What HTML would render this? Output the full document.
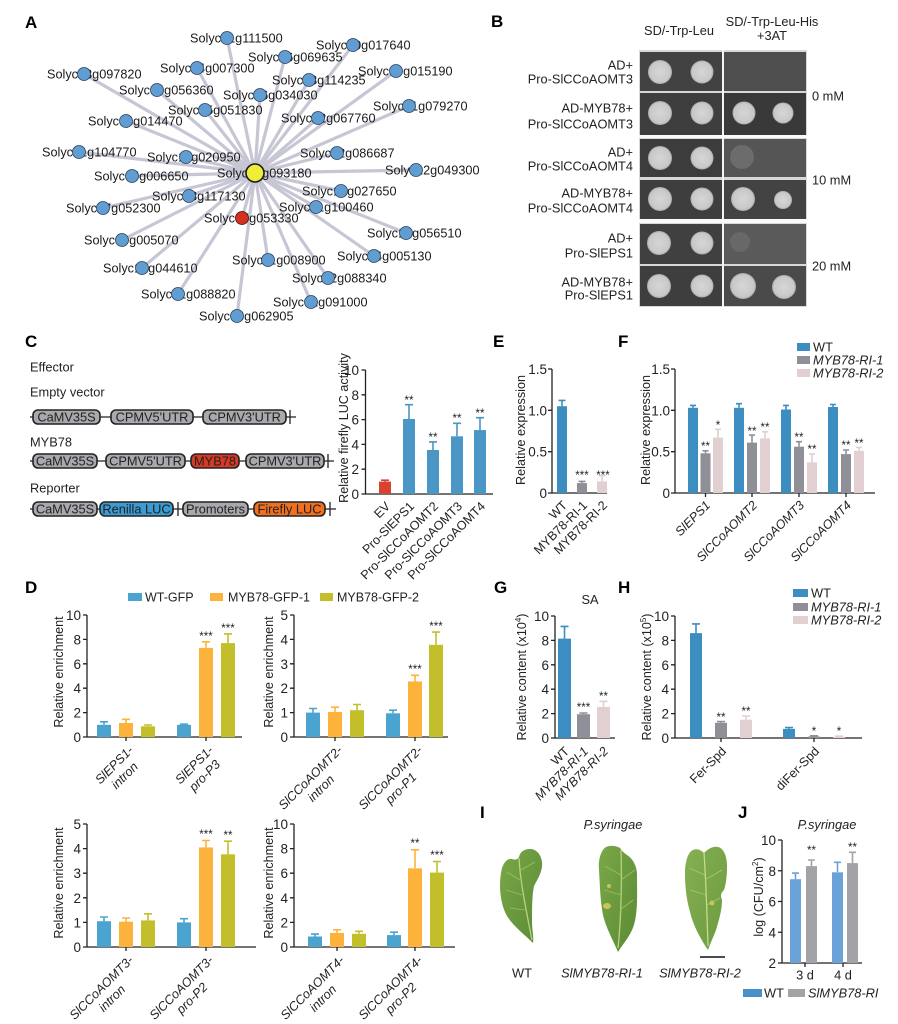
<!DOCTYPE html>
<html><head><meta charset="utf-8">
<style>
html,body{margin:0;padding:0;background:#fff;}
svg{display:block;}
text{font-family:"Liberation Sans",Arial,sans-serif;fill:#222;}
.t{font-size:12.8px;}
.tk{font-size:13.5px;text-anchor:end;}
.L{font-size:17px;font-weight:bold;fill:#000;}
.n{font-size:12.7px;fill:#1a1a1a;}
.ax{stroke:#222;stroke-width:1.3;fill:none;}
.st{font-size:11.5px;text-anchor:middle;}
.yl{font-size:12.6px;text-anchor:middle;}
.xl{font-size:12.6px;text-anchor:end;}
.dl{font-size:12.6px;text-anchor:middle;font-style:italic;}
.it{font-style:italic;}
.e{stroke-width:1.6;fill:none;}
</style></head><body>
<svg width="898" height="1024" viewBox="0 0 898 1024" xmlns="http://www.w3.org/2000/svg">
<defs>
<radialGradient id="col" cx="50%" cy="50%" r="50%"><stop offset="0" stop-color="#d6d6d6"/><stop offset="0.85" stop-color="#c8c8c8"/><stop offset="1" stop-color="#a8a8a8"/></radialGradient>
<linearGradient id="leafA" x1="0" y1="0" x2="1" y2="1"><stop offset="0" stop-color="#7aa848"/><stop offset="1" stop-color="#5a8a34"/></linearGradient>
<linearGradient id="leafB" x1="0" y1="0" x2="1" y2="1"><stop offset="0" stop-color="#86b054"/><stop offset="1" stop-color="#6a9a3c"/></linearGradient>
</defs>

<!-- ================= A ================= -->
<text class="L" x="25" y="28">A</text>
<g stroke="#c6c6d4" stroke-width="3.2">
<line x1="255" y1="173" x2="227" y2="38"/><line x1="255" y1="173" x2="353" y2="45"/><line x1="255" y1="173" x2="285" y2="57"/>
<line x1="255" y1="173" x2="197" y2="68"/><line x1="255" y1="173" x2="84" y2="74"/><line x1="255" y1="173" x2="396" y2="71"/>
<line x1="255" y1="173" x2="309" y2="80"/><line x1="255" y1="173" x2="157" y2="90"/><line x1="255" y1="173" x2="260" y2="95"/>
<line x1="255" y1="173" x2="205" y2="110"/><line x1="255" y1="173" x2="409" y2="106"/><line x1="255" y1="173" x2="126" y2="121"/>
<line x1="255" y1="173" x2="318" y2="118"/><line x1="255" y1="173" x2="79" y2="152"/><line x1="255" y1="173" x2="186" y2="157"/>
<line x1="255" y1="173" x2="337" y2="153"/><line x1="255" y1="173" x2="416" y2="170"/><line x1="255" y1="173" x2="132" y2="176"/>
<line x1="255" y1="173" x2="341" y2="191"/><line x1="255" y1="173" x2="189" y2="196"/><line x1="255" y1="173" x2="103" y2="208"/>
<line x1="255" y1="173" x2="316" y2="207"/><line x1="255" y1="173" x2="242" y2="218"/><line x1="255" y1="173" x2="406" y2="233"/>
<line x1="255" y1="173" x2="122" y2="240"/><line x1="255" y1="173" x2="374" y2="256"/><line x1="255" y1="173" x2="268" y2="260"/>
<line x1="255" y1="173" x2="142" y2="268"/><line x1="255" y1="173" x2="328" y2="278"/><line x1="255" y1="173" x2="178" y2="294"/>
<line x1="255" y1="173" x2="311" y2="302"/><line x1="255" y1="173" x2="237" y2="316"/>
</g>
<g class="n">
<text class="n" x="190" y="42.5">Solyc01g111500</text>
<text class="n" x="316" y="49.5">Solyc10g017640</text>
<text class="n" x="248" y="61.5">Solyc06g069635</text>
<text class="n" x="160" y="72.5">Solyc04g007300</text>
<text class="n" x="47" y="78.5">Solyc03g097820</text>
<text class="n" x="358" y="75.5">Solyc09g015190</text>
<text class="n" x="272" y="84.5">Solyc03g114235</text>
<text class="n" x="119" y="94.5">Solyc04g056360</text>
<text class="n" x="223" y="99.5">Solyc06g034030</text>
<text class="n" x="168" y="114.5">Solyc05g051830</text>
<text class="n" x="373" y="110.5">Solyc01g079270</text>
<text class="n" x="88" y="125.5">Solyc04g014470</text>
<text class="n" x="281" y="122.5">Solyc02g067760</text>
<text class="n" x="42" y="156.5">Solyc01g104770</text>
<text class="n" x="147" y="161.5">Solyc11g020950</text>
<text class="n" x="300" y="157.5">Solyc02g086687</text>
<text class="n" x="385" y="174.5">Solyc12g049300</text>
<text class="n" x="94" y="180.5">Solyc05g006650</text>
<text class="n" x="217" y="177.5">Solyc02g093180</text>
<text class="n" x="302" y="195.5">Solyc12g027650</text>
<text class="n" x="152" y="200.5">Solyc03g117130</text>
<text class="n" x="66" y="212.5">Solyc07g052300</text>
<text class="n" x="279" y="211.5">Solyc01g100460</text>
<text class="n" x="204" y="222.5">Solyc05g053330</text>
<text class="n" x="367" y="237.5">Solyc12g056510</text>
<text class="n" x="84" y="244.5">Solyc09g005070</text>
<text class="n" x="337" y="260.5">Solyc04g005130</text>
<text class="n" x="232" y="264.5">Solyc11g008900</text>
<text class="n" x="103" y="272.5">Solyc12g044610</text>
<text class="n" x="292" y="282.5">Solyc02g088340</text>
<text class="n" x="141" y="298.5">Solyc01g088820</text>
<text class="n" x="273" y="306.5">Solyc01g091000</text>
<text class="n" x="199" y="320.5">Solyc06g062905</text>
</g>
<g fill="#609dd2" stroke="#2b3d55" stroke-width="0.8">
<circle cx="227" cy="38" r="6.5"/><circle cx="353" cy="45" r="6.5"/><circle cx="285" cy="57" r="6.5"/>
<circle cx="197" cy="68" r="6.5"/><circle cx="84" cy="74" r="6.5"/><circle cx="396" cy="71" r="6.5"/>
<circle cx="309" cy="80" r="6.5"/><circle cx="157" cy="90" r="6.5"/><circle cx="260" cy="95" r="6.5"/>
<circle cx="205" cy="110" r="6.5"/><circle cx="409" cy="106" r="6.5"/><circle cx="126" cy="121" r="6.5"/>
<circle cx="318" cy="118" r="6.5"/><circle cx="79" cy="152" r="6.5"/><circle cx="186" cy="157" r="6.5"/>
<circle cx="337" cy="153" r="6.5"/><circle cx="416" cy="170" r="6.5"/><circle cx="132" cy="176" r="6.5"/>
<circle cx="341" cy="191" r="6.5"/><circle cx="189" cy="196" r="6.5"/><circle cx="103" cy="208" r="6.5"/>
<circle cx="316" cy="207" r="6.5"/><circle cx="406" cy="233" r="6.5"/>
<circle cx="122" cy="240" r="6.5"/><circle cx="374" cy="256" r="6.5"/><circle cx="268" cy="260" r="6.5"/>
<circle cx="142" cy="268" r="6.5"/><circle cx="328" cy="278" r="6.5"/><circle cx="178" cy="294" r="6.5"/>
<circle cx="311" cy="302" r="6.5"/><circle cx="237" cy="316" r="6.5"/>
</g>
<circle cx="242" cy="218" r="6.5" fill="#d3311d" stroke="#3a1010" stroke-width="0.8"/>
<circle cx="255" cy="173" r="9" fill="#eeee38" stroke="#1a1a1a" stroke-width="1.6"/>

<!-- ================= B ================= -->
<text class="L" x="491" y="27">B</text>
<text class="t" x="679" y="35" text-anchor="middle">SD/-Trp-Leu</text>
<text class="t" x="772" y="26" text-anchor="middle">SD/-Trp-Leu-His</text>
<text class="t" x="772" y="40" text-anchor="middle">+3AT</text>
<g class="t" text-anchor="end">
<text x="633" y="69.5">AD+</text><text x="633" y="83.5">Pro-SlCCoAOMT3</text>
<text x="633" y="112.5">AD-MYB78+</text><text x="633" y="128.5">Pro-SlCCoAOMT3</text>
<text x="633" y="156.5">AD+</text><text x="633" y="170.5">Pro-SlCCoAOMT4</text>
<text x="633" y="197.5">AD-MYB78+</text><text x="633" y="212.5">Pro-SlCCoAOMT4</text>
<text x="633" y="242.5">AD+</text><text x="633" y="257.5">Pro-SlEPS1</text>
<text x="633" y="286.5">AD-MYB78+</text><text x="633" y="299.5">Pro-SlEPS1</text>
</g>
<text class="t" x="812" y="100.5">0 mM</text>
<text class="t" x="812" y="184.5">10 mM</text>
<text class="t" x="812" y="270.5">20 mM</text>
<rect x="639" y="50" width="168" height="257" fill="#d8d8d8"/>
<rect x="722" y="50" width="2" height="257" fill="#f4f4f4"/>
<rect x="639" y="135" width="168" height="3" fill="#fafafa"/>
<rect x="639" y="219" width="168" height="4" fill="#fafafa"/>
<g>
<rect x="640" y="52" width="82" height="39" fill="#424242"/>
<rect x="640" y="93" width="82" height="42" fill="#3e3e3e"/>
<rect x="640" y="139" width="82" height="38" fill="#3c3c3c"/>
<rect x="640" y="180" width="82" height="39" fill="#3e3e3e"/>
<rect x="640" y="224" width="82" height="40" fill="#404040"/>
<rect x="640" y="266" width="82" height="40" fill="#3e3e3e"/>
<rect x="724" y="52" width="82" height="39" fill="#4e4e4e"/>
<rect x="724" y="93" width="82" height="42" fill="#393939"/>
<rect x="724" y="139" width="82" height="38" fill="#555555"/>
<rect x="724" y="180" width="82" height="39" fill="#434343"/>
<rect x="724" y="224" width="82" height="40" fill="#5a5a5a"/>
<rect x="724" y="266" width="82" height="40" fill="#4a4a4a"/>
</g>
<g fill="url(#col)">
<circle cx="660" cy="72" r="12"/><circle cx="702" cy="72" r="11.5"/>
<circle cx="660" cy="113" r="12"/><circle cx="702" cy="113" r="11.5"/>
<circle cx="660" cy="158" r="12"/><circle cx="702" cy="158" r="11.5"/>
<circle cx="660" cy="199" r="12"/><circle cx="702" cy="199" r="11.5"/>
<circle cx="659" cy="243" r="12"/><circle cx="702" cy="243" r="11.5"/>
<circle cx="659" cy="286" r="12"/><circle cx="702" cy="286" r="11.5"/>
<circle cx="744" cy="113" r="11.5"/><circle cx="783" cy="113" r="10.5"/>
<circle cx="743" cy="199" r="12"/><circle cx="783" cy="200" r="9"/>
<circle cx="743" cy="286" r="13"/><circle cx="784" cy="287" r="12"/>
</g>
<circle cx="742" cy="157" r="12" fill="#6c6c6c"/>
<circle cx="740" cy="242" r="10" fill="#686868"/>

<!-- ================= C ================= -->
<text class="L" x="25" y="347">C</text>
<g class="t" fill="#333">
<text x="30" y="371.5">Effector</text>
<text x="30" y="396.5">Empty vector</text>
<text x="30" y="446.5">MYB78</text>
<text x="30" y="492.5">Reporter</text>
</g>
<g stroke="#222" stroke-width="1.3">
<line x1="30" y1="417" x2="296" y2="417"/><line x1="290" y1="410" x2="290" y2="424"/>
<line x1="30" y1="461" x2="334" y2="461"/><line x1="328" y1="454" x2="328" y2="468"/>
<line x1="30" y1="509" x2="336" y2="509"/><line x1="178" y1="502" x2="178" y2="516"/><line x1="330" y1="502" x2="330" y2="516"/>
</g>
<g stroke="#222" stroke-width="1.6">
<rect x="33" y="410" width="67" height="14" rx="5" fill="#a8a8ad"/>
<rect x="111" y="410" width="82" height="14" rx="5" fill="#a8a8ad"/>
<rect x="203" y="410" width="83" height="14" rx="5" fill="#a8a8ad"/>
<rect x="33" y="454" width="64" height="14" rx="5" fill="#a8a8ad"/>
<rect x="106" y="454" width="79" height="14" rx="5" fill="#a8a8ad"/>
<rect x="191" y="454" width="48" height="14" rx="5" fill="#d53a25"/>
<rect x="246" y="454" width="78" height="14" rx="5" fill="#a8a8ad"/>
<rect x="33" y="502" width="64" height="14" rx="5" fill="#a8a8ad"/>
<rect x="100" y="502" width="73" height="14" rx="5" fill="#3b9bd2"/>
<rect x="183" y="502" width="65" height="14" rx="5" fill="#a8a8ad"/>
<rect x="254" y="502" width="71" height="14" rx="5" fill="#f07020"/>
</g>
<g class="t" text-anchor="middle">
<text x="66.5" y="421.5">CaMV35S</text><text x="152" y="421.5">CPMV5'UTR</text><text x="244.5" y="421.5">CPMV3'UTR</text>
<text x="65" y="465.5">CaMV35S</text><text x="145.5" y="465.5">CPMV5'UTR</text><text x="215" y="465.5">MYB78</text><text x="285" y="465.5">CPMV3'UTR</text>
<text x="65" y="513.5">CaMV35S</text><text x="136.5" y="513.5">Renilla LUC</text><text x="215.5" y="513.5">Promoters</text><text x="289.5" y="513.5">Firefly LUC</text>
</g>
<!-- C chart -->
<path class="ax" d="M365.5 370 V494 H493"/>
<g class="ax"><path d="M361.5 494H365.5M361.5 469.2H365.5M361.5 444.4H365.5M361.5 419.6H365.5M361.5 394.8H365.5M361.5 370H365.5"/></g>
<g class="tk"><text x="359" y="499">0</text><text x="359" y="474.2">2</text><text x="359" y="449.4">4</text><text x="359" y="424.6">6</text><text x="359" y="399.8">8</text><text x="359" y="375">10</text></g>
<rect x="379" y="481.6" width="12" height="12.4" fill="#d64330"/>
<path class="e" stroke="#d64330" d="M385 481.6V480.2M381 480.2H389"/>
<g fill="#4a96c4"><rect x="403" y="419" width="12" height="75"/><rect x="427" y="450" width="12" height="44"/><rect x="451" y="436.3" width="12" height="57.7"/><rect x="474" y="430.1" width="12" height="63.9"/></g>
<g class="e" stroke="#4a96c4"><path d="M409 419V404.7M405 404.7H413M433 450V441.9M429 441.9H437M457 436.3V423.3M453 423.3H461M480 430.1V417.7M476 417.7H484"/></g>
<g class="st"><text x="409" y="404">**</text><text x="433" y="441">**</text><text x="457" y="422">**</text><text x="480" y="417">**</text></g>
<text class="yl" transform="translate(348,428) rotate(-90)">Relative firefly LUC activity</text>
<g class="xl">
<text transform="translate(391,507) rotate(-45)">EV</text>
<text transform="translate(415,507) rotate(-45)">Pro-SlEPS1</text>
<text transform="translate(439,507) rotate(-45)">Pro-SlCCoAOMT2</text>
<text transform="translate(463,507) rotate(-45)">Pro-SlCCoAOMT3</text>
<text transform="translate(486,507) rotate(-45)">Pro-SlCCoAOMT4</text>
</g>

<!-- ================= E ================= -->
<text class="L" x="493" y="347">E</text>
<path class="ax" d="M552 369 V493 H607"/>
<path class="ax" d="M548 493H552M548 451.7H552M548 410.3H552M548 369H552"/>
<g class="tk"><text x="547" y="498">0</text><text x="547" y="456.7">0.5</text><text x="547" y="415.3">1.0</text><text x="547" y="374">1.5</text></g>
<rect x="557" y="406.2" width="10" height="86.8" fill="#3c8ec0"/>
<rect x="577" y="483.1" width="10" height="9.9" fill="#8f8f97"/>
<rect x="597" y="481.4" width="10" height="11.6" fill="#e2cfd1"/>
<path class="e" stroke="#3c8ec0" d="M562 406.2V400.4M558.5 400.4H565.5"/>
<path class="e" stroke="#8f8f97" d="M582 483.1V481.4M578.5 481.4H585.5"/>
<path class="e" stroke="#e2cfd1" d="M602 481.4V475.6M598.5 475.6H605.5"/>
<g class="st"><text x="582" y="479">***</text><text x="603" y="479">***</text></g>
<text class="yl" transform="translate(525,430) rotate(-90)">Relative expression</text>
<g class="xl">
<text transform="translate(568,506) rotate(-45)">WT</text>
<text transform="translate(588,506) rotate(-45)">MYB78-RI-1</text>
<text transform="translate(608,506) rotate(-45)">MYB78-RI-2</text>
</g>

<!-- ================= F ================= -->
<text class="L" x="618" y="347">F</text>
<path class="ax" d="M675 369 V493 H875"/>
<path class="ax" d="M671 493H675M671 451.7H675M671 410.3H675M671 369H675M705.5 493V497M752 493V497M799 493V497M846 493V497"/>
<g class="tk"><text x="670" y="498">0</text><text x="670" y="456.7">0.5</text><text x="670" y="415.3">1.0</text><text x="670" y="374">1.5</text></g>
<g fill="#3c8ec0"><rect x="688" y="407.8" width="10" height="85.2"/><rect x="734" y="407.8" width="10" height="85.2"/><rect x="781" y="409.5" width="10" height="83.5"/><rect x="828" y="407" width="10" height="86"/></g>
<g fill="#8f8f97"><rect x="700.5" y="453.3" width="10" height="39.7"/><rect x="747" y="442.6" width="10" height="50.4"/><rect x="794" y="446.7" width="10" height="46.3"/><rect x="841" y="454.1" width="10" height="38.9"/></g>
<g fill="#e2cfd1"><rect x="713" y="437.6" width="10" height="55.4"/><rect x="760" y="438.4" width="10" height="54.6"/><rect x="807" y="462.4" width="10" height="30.6"/><rect x="854" y="450.8" width="10" height="42.2"/></g>
<path class="e" stroke="#3c8ec0" d="M693 407.8V405.4M690 405.4H696M739 407.8V403.7M736 403.7H742M786 409.5V405.4M783 405.4H789M833 407V404.5M830 404.5H836"/>
<path class="e" stroke="#8f8f97" d="M705.5 453.3V450.8M702.5 450.8H708.5M752 442.6V435.1M749 435.1H755M799 446.7V441.7M796 441.7H802M846 454.1V450M843 450H849"/>
<path class="e" stroke="#e2cfd1" d="M718 437.6V429.3M715 429.3H721M765 438.4V431.8M762 431.8H768M812 462.4V454.1M809 454.1H815M859 450.8V447.5M856 447.5H862"/>
<g class="st"><text x="705.5" y="450">**</text><text x="718" y="429">*</text><text x="752" y="435">**</text><text x="765" y="431">**</text><text x="799" y="441">**</text><text x="812" y="453">**</text><text x="846" y="449">**</text><text x="859" y="447">**</text></g>
<text class="yl" transform="translate(650,430) rotate(-90)">Relative expression</text>
<g class="xl it">
<text transform="translate(711,506) rotate(-45)">SlEPS1</text>
<text transform="translate(758,506) rotate(-45)">SlCCoAOMT2</text>
<text transform="translate(805,506) rotate(-45)">SlCCoAOMT3</text>
<text transform="translate(852,506) rotate(-45)">SlCCoAOMT4</text>
</g>
<rect x="797" y="343" width="13" height="8" fill="#3c8ec0"/>
<rect x="797" y="356" width="13" height="8" fill="#8f8f97"/>
<rect x="797" y="369" width="13" height="8" fill="#e2cfd1"/>
<text class="t" x="813" y="351.5">WT</text>
<text class="t it" x="813" y="364.5">MYB78-RI-1</text>
<text class="t it" x="813" y="377.5">MYB78-RI-2</text>

<!-- ================= D ================= -->
<text class="L" x="25" y="593">D</text>
<rect x="128" y="593" width="14" height="8" fill="#4ba3cf"/><text x="145" y="601.5" style="font-size:12.5px">WT-GFP</text>
<rect x="210" y="593" width="13" height="8" fill="#fdb33b"/><text x="228" y="601.5" style="font-size:12.5px">MYB78-GFP-1</text>
<rect x="320" y="593" width="13" height="8" fill="#c3bf2b"/><text x="337" y="601.5" style="font-size:12.5px">MYB78-GFP-2</text>

<!-- D1 -->
<path class="ax" d="M87 615 V737 H242M83 737H87M83 712.6H87M83 688.2H87M83 663.8H87M83 639.4H87M83 615H87M126 737V741M206 737V741"/>
<g class="tk"><text x="81" y="742">0</text><text x="81" y="717.6">2</text><text x="81" y="693.2">4</text><text x="81" y="668.8">6</text><text x="81" y="644.4">8</text><text x="81" y="620">10</text></g>
<g fill="#4ba3cf"><rect x="97" y="724.8" width="14" height="12.2"/><rect x="177" y="724.8" width="14" height="12.2"/></g>
<g fill="#fdb33b"><rect x="119" y="723" width="14" height="14"/><rect x="199" y="647.9" width="14" height="89.1"/></g>
<g fill="#c3bf2b"><rect x="141" y="726.3" width="14" height="10.7"/><rect x="221" y="643.1" width="14" height="93.9"/></g>
<path class="e" stroke="#4ba3cf" d="M104 724.8V721.8M100 721.8H108M184 724.8V724.2M180 724.2H188"/>
<path class="e" stroke="#fdb33b" d="M126 723V719.3M122 719.3H130M206 647.9V641.8M202 641.8H210"/>
<path class="e" stroke="#c3bf2b" d="M148 726.3V725M144 725H152M228 643.1V633.9M224 633.9H232"/>
<g class="st"><text x="206" y="640">***</text><text x="228" y="632">***</text></g>
<text class="yl" transform="translate(63,672) rotate(-90)">Relative enrichment</text>
<g class="dl" transform="translate(134,751) rotate(-45)"><text x="-24" y="0">SlEPS1-</text><text x="-24" y="15">intron</text></g>
<g class="dl" transform="translate(214,751) rotate(-45)"><text x="-24" y="0">SlEPS1-</text><text x="-24" y="15">pro-P3</text></g>

<!-- D2 -->
<path class="ax" d="M294 615 V737 H448M290 737H294M290 712.6H294M290 688.2H294M290 663.8H294M290 639.4H294M290 615H294M335 737V741M415 737V741"/>
<g class="tk"><text x="288" y="742">0</text><text x="288" y="717.6">1</text><text x="288" y="693.2">2</text><text x="288" y="668.8">3</text><text x="288" y="644.4">4</text><text x="288" y="620">5</text></g>
<g fill="#4ba3cf"><rect x="306" y="712.6" width="14" height="24.4"/><rect x="386" y="713.3" width="14" height="23.7"/></g>
<g fill="#fdb33b"><rect x="328" y="711.9" width="14" height="25.1"/><rect x="408" y="681.4" width="14" height="55.6"/></g>
<g fill="#c3bf2b"><rect x="350" y="710.2" width="14" height="26.8"/><rect x="429" y="644.8" width="14" height="92.2"/></g>
<path class="e" stroke="#4ba3cf" d="M313 712.6V708.5M309 708.5H317M393 713.3V710.2M389 710.2H397"/>
<path class="e" stroke="#fdb33b" d="M335 711.9V707.2M331 707.2H339M415 681.4V675.3M411 675.3H419"/>
<path class="e" stroke="#c3bf2b" d="M357 710.2V704.5M353 704.5H361M436 644.8V632.1M432 632.1H440"/>
<g class="st"><text x="415" y="673">***</text><text x="436" y="630">***</text></g>
<text class="yl" transform="translate(273,672) rotate(-90)">Relative enrichment</text>
<g class="dl" transform="translate(343,751) rotate(-45)"><text x="-42" y="0">SlCCoAOMT2-</text><text x="-42" y="15">intron</text></g>
<g class="dl" transform="translate(423,751) rotate(-45)"><text x="-42" y="0">SlCCoAOMT2-</text><text x="-42" y="15">pro-P1</text></g>

<!-- D3 -->
<path class="ax" d="M87 824 V947 H256M83 947H87M83 922.4H87M83 897.8H87M83 873.2H87M83 848.6H87M83 824H87M126 947V951M206 947V951"/>
<g class="tk"><text x="81" y="952">0</text><text x="81" y="927.4">1</text><text x="81" y="902.8">2</text><text x="81" y="878.2">3</text><text x="81" y="853.6">4</text><text x="81" y="829">5</text></g>
<g fill="#4ba3cf"><rect x="97" y="921.2" width="14" height="25.8"/><rect x="177" y="922.4" width="14" height="24.6"/></g>
<g fill="#fdb33b"><rect x="119" y="921.7" width="14" height="25.3"/><rect x="199" y="847.4" width="14" height="99.6"/></g>
<g fill="#c3bf2b"><rect x="141" y="920.4" width="14" height="26.6"/><rect x="221" y="854.3" width="14" height="92.7"/></g>
<path class="e" stroke="#4ba3cf" d="M104 921.2V917M100 917H108M184 922.4V918.7M180 918.7H188"/>
<path class="e" stroke="#fdb33b" d="M126 921.7V918M122 918H130M206 847.4V840.5M202 840.5H210"/>
<path class="e" stroke="#c3bf2b" d="M148 920.4V913.8M144 913.8H152M228 854.3V841.2M224 841.2H232"/>
<g class="st"><text x="206" y="838">***</text><text x="228" y="839">**</text></g>
<text class="yl" transform="translate(63,883) rotate(-90)">Relative enrichment</text>
<g class="dl" transform="translate(134,961) rotate(-45)"><text x="-42" y="0">SlCCoAOMT3-</text><text x="-42" y="15">intron</text></g>
<g class="dl" transform="translate(214,961) rotate(-45)"><text x="-42" y="0">SlCCoAOMT3-</text><text x="-42" y="15">pro-P2</text></g>

<!-- D4 -->
<path class="ax" d="M294 824 V947 H455M290 947H294M290 922.4H294M290 897.8H294M290 873.2H294M290 848.6H294M290 824H294M337 947V951M415 947V951"/>
<g class="tk"><text x="288" y="952">0</text><text x="288" y="927.4">2</text><text x="288" y="902.8">4</text><text x="288" y="878.2">6</text><text x="288" y="853.6">8</text><text x="288" y="829">10</text></g>
<g fill="#4ba3cf"><rect x="308" y="936.5" width="14" height="10.5"/><rect x="387" y="935.1" width="14" height="11.9"/></g>
<g fill="#fdb33b"><rect x="330" y="932.9" width="14" height="14.1"/><rect x="408" y="868.3" width="14" height="78.7"/></g>
<g fill="#c3bf2b"><rect x="352" y="933.8" width="14" height="13.2"/><rect x="430" y="872.6" width="14" height="74.4"/></g>
<path class="e" stroke="#4ba3cf" d="M315 936.5V934.1M311 934.1H319M394 935.1V932.2M390 932.2H398"/>
<path class="e" stroke="#fdb33b" d="M337 932.9V929.8M333 929.8H341M415 868.3V849.8M411 849.8H419"/>
<path class="e" stroke="#c3bf2b" d="M359 933.8V931.3M355 931.3H363M437 872.6V861.5M433 861.5H441"/>
<g class="st"><text x="415" y="847">**</text><text x="437" y="859">***</text></g>
<text class="yl" transform="translate(273,883) rotate(-90)">Relative enrichment</text>
<g class="dl" transform="translate(345,961) rotate(-45)"><text x="-42" y="0">SlCCoAOMT4-</text><text x="-42" y="15">intron</text></g>
<g class="dl" transform="translate(423,961) rotate(-45)"><text x="-42" y="0">SlCCoAOMT4-</text><text x="-42" y="15">pro-P2</text></g>

<!-- ================= G ================= -->
<text class="L" x="494" y="593">G</text>
<text class="t" x="590" y="604" text-anchor="middle">SA</text>
<path class="ax" d="M555 616 V738 H615M551 738H555M551 713.6H555M551 689.2H555M551 664.8H555M551 640.4H555M551 616H555"/>
<g class="tk"><text x="549" y="743">0</text><text x="549" y="718.6">2</text><text x="549" y="694.2">4</text><text x="549" y="669.8">6</text><text x="549" y="645.4">8</text><text x="549" y="621">10</text></g>
<rect x="558" y="638.6" width="13" height="99.4" fill="#3c8ec0"/>
<rect x="577" y="714.2" width="13" height="23.8" fill="#8f8f97"/>
<rect x="597" y="706.9" width="13" height="31.1" fill="#e2cfd1"/>
<path class="e" stroke="#3c8ec0" d="M564.5 638.6V626.4M560.5 626.4H568.5"/>
<path class="e" stroke="#8f8f97" d="M583.5 714.2V713M579.5 713H587.5"/>
<path class="e" stroke="#e2cfd1" d="M603.5 706.9V701.4M599.5 701.4H607.5"/>
<g class="st"><text x="583.5" y="711">***</text><text x="603.5" y="700">**</text></g>
<text class="yl" transform="translate(526,677) rotate(-90)">Relative content (x10<tspan dy="-5" font-size="8">4</tspan><tspan dy="5">)</tspan></text>
<g class="xl it">
<text transform="translate(570,752) rotate(-45)" style="font-style:normal">WT</text>
<text transform="translate(589,752) rotate(-45)">MYB78-RI-1</text>
<text transform="translate(609,752) rotate(-45)">MYB78-RI-2</text>
</g>

<!-- ================= H ================= -->
<text class="L" x="618" y="593">H</text>
<path class="ax" d="M675 616 V738 H862M671 738H675M671 713.6H675M671 689.2H675M671 664.8H675M671 640.4H675M671 616H675M721 738V742M814 738V742"/>
<g class="tk"><text x="669" y="743">0</text><text x="669" y="718.6">2</text><text x="669" y="694.2">4</text><text x="669" y="669.8">6</text><text x="669" y="645.4">8</text><text x="669" y="621">10</text></g>
<g fill="#3c8ec0"><rect x="690" y="633.1" width="12" height="104.9"/><rect x="783" y="728.9" width="12" height="9.1"/></g>
<g fill="#8f8f97"><rect x="715" y="722.75" width="12" height="15.25"/><rect x="808" y="736.5" width="12" height="1.5"/></g>
<g fill="#e2cfd1"><rect x="740" y="719.7" width="12" height="18.3"/><rect x="833" y="736.8" width="12" height="1.2"/></g>
<path class="e" stroke="#3c8ec0" d="M696 633.1V623.9M692 623.9H700M789 728.9V727.6M785 727.6H793"/>
<path class="e" stroke="#8f8f97" d="M721 722.75V721.5M717 721.5H725M814 736.5V735.8M810 735.8H818"/>
<path class="e" stroke="#e2cfd1" d="M746 719.7V716M742 716H750M839 736.8V736.2M835 736.2H843"/>
<g class="st"><text x="721" y="721">**</text><text x="746" y="715">**</text><text x="814" y="735">*</text><text x="839" y="735">*</text></g>
<text class="yl" transform="translate(651,677) rotate(-90)">Relative content (x10<tspan dy="-5" font-size="8">5</tspan><tspan dy="5">)</tspan></text>
<g class="xl">
<text transform="translate(727,752) rotate(-45)">Fer-Spd</text>
<text transform="translate(820,752) rotate(-45)">diFer-Spd</text>
</g>
<rect x="793" y="589" width="15" height="8" fill="#3c8ec0"/>
<rect x="793" y="603" width="15" height="8" fill="#8f8f97"/>
<rect x="793" y="616" width="15" height="8" fill="#e2cfd1"/>
<text class="t" x="811" y="597.5">WT</text>
<text class="t it" x="811" y="611.5">MYB78-RI-1</text>
<text class="t it" x="811" y="624.5">MYB78-RI-2</text>

<!-- ================= I ================= -->
<text class="L" x="480" y="818">I</text>
<text class="t it" x="613" y="829" text-anchor="middle">P.syringae</text>
<path d="M533 943 C524 934 510 924 505 912 C499 898 499 880 502 868 C504 862 508 858 512 859 C515 860 517 860 519 857 C520 852 524 849 530 849 C536 849 541 854 542 862 C543 871 538 878 534 886 C532 895 532 910 532 922 C532 930 534 938 533 943 Z" fill="url(#leafA)"/>
<path d="M519 858 C520 880 526 910 532 940" stroke="#b9d27e" stroke-width="1.3" fill="none"/>
<path d="M520 880 L507 872 M522 895 L506 890 M525 910 L510 908 M521 870 L535 862" stroke="#9cc064" stroke-width="0.8" fill="none"/>
<path d="M618 952 C613 940 606 928 603 915 C600 900 600 885 599 870 C598 860 601 850 606 847 C611 845 617 846 620 848 C622 851 624 853 627 855 C633 859 637 866 637 875 C637 895 638 910 634 925 C630 937 622 945 618 952 Z" fill="url(#leafA)"/>
<path d="M621 850 C622 880 621 920 618 948" stroke="#b9d27e" stroke-width="1.3" fill="none"/>
<path d="M621 875 L605 866 M621 895 L604 890 M621 880 L635 870 M620 910 L633 900" stroke="#9cc064" stroke-width="0.8" fill="none"/>
<ellipse cx="607" cy="906" rx="4" ry="3" fill="#c9c455"/><circle cx="609" cy="886" r="2" fill="#c9c455"/>
<path d="M708 950 C700 938 693 925 690 912 C686 898 685 885 685 873 C685 862 688 852 693 850 C697 848 701 850 704 853 C708 849 713 846 718 847 C723 848 727 855 727 866 C727 876 726 884 724 890 C721 893 720 895 722 900 C722 910 719 920 716 930 C713 938 710 944 708 950 Z" fill="url(#leafB)"/>
<path d="M704 853 C706 880 707 915 708 946" stroke="#c4da90" stroke-width="1.3" fill="none"/>
<path d="M705 875 L689 868 M706 895 L690 890 M705 880 L722 870 M707 905 L720 898" stroke="#a8c874" stroke-width="0.8" fill="none"/>
<circle cx="712" cy="903" r="2.5" fill="#c9c455"/>
<line x1="700" y1="957" x2="725" y2="957" stroke="#111" stroke-width="1.6"/>
<text class="t" x="522" y="977.5" text-anchor="middle">WT</text>
<text class="t it" x="602" y="977.5" text-anchor="middle">SlMYB78-RI-1</text>
<text class="t it" x="700" y="977.5" text-anchor="middle">SlMYB78-RI-2</text>

<!-- ================= J ================= -->
<text class="L" x="738" y="818">J</text>
<text class="t it" x="827" y="829" text-anchor="middle">P.syringae</text>
<path class="ax" d="M782 840 V963 H862M778 963H782M778 932.25H782M778 901.5H782M778 870.75H782M778 840H782M805 963V967M843 963V967"/>
<g class="tk"><text x="776" y="968">2</text><text x="776" y="937.25">4</text><text x="776" y="906.5">6</text><text x="776" y="875.75">8</text><text x="776" y="845">10</text></g>
<g fill="#6ba3d9"><rect x="790" y="879.2" width="11" height="83.8"/><rect x="832" y="872.3" width="11" height="90.7"/></g>
<g fill="#a3a3a7"><rect x="806" y="866.1" width="11" height="96.9"/><rect x="847" y="863.1" width="11" height="99.9"/></g>
<path class="e" stroke="#6ba3d9" d="M795.5 879.2V873.1M792 873.1H799M837.5 872.3V862.3M834 862.3H841"/>
<path class="e" stroke="#a3a3a7" d="M811.5 866.1V860M808 860H815M852.5 863.1V852.3M849 852.3H856"/>
<g class="st"><text x="811.5" y="854">**</text><text x="852.5" y="851">**</text></g>
<text class="yl" transform="translate(763,897) rotate(-90)">log (CFU/cm<tspan dy="-5" font-size="8">2</tspan><tspan dy="5">)</tspan></text>
<text class="t" x="805" y="979.5" text-anchor="middle">3 d</text>
<text class="t" x="843" y="979.5" text-anchor="middle">4 d</text>
<rect x="743" y="989" width="19" height="8" fill="#4a90c8"/>
<text class="t" x="764" y="997.5">WT</text>
<rect x="788" y="989" width="17" height="8" fill="#a3a3a7"/>
<text class="t it" x="808" y="997.5">SlMYB78-RI</text>
</svg>
</body></html>
